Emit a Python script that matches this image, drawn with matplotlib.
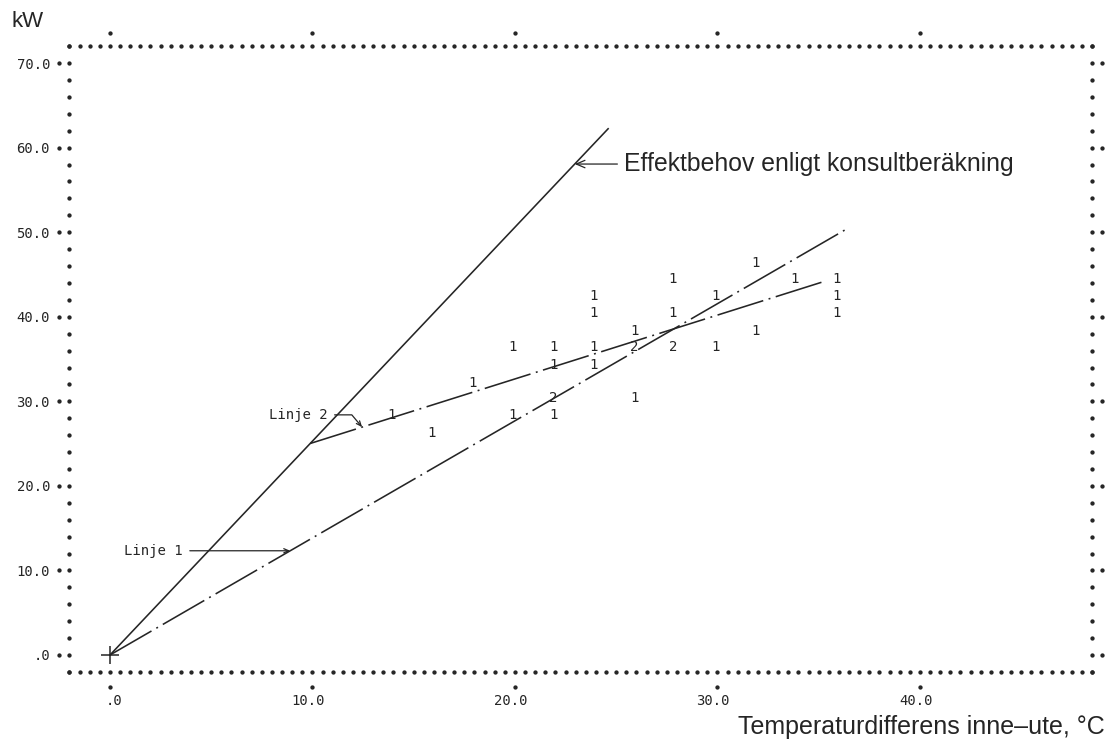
import matplotlib.pyplot as plt
import numpy as np

# axis ticks as printed by the line printer
x_ticks = [0, 10, 20, 30, 40]
x_labels = [".0", "10.0", "20.0", "30.0", "40.0"]
y_ticks = [0, 10, 20, 30, 40, 50, 60, 70]
y_labels = [".0", "10.0", "20.0", "30.0", "40.0", "50.0", "60.0", "70.0"]

# observations: temperature difference (C), power (kW), number of hits at that cell
obs_dt = [13.9, 15.9, 17.9, 19.9, 19.9,
          21.9, 21.9, 21.9, 21.9,
          23.9, 23.9, 23.9, 23.9,
          25.9, 25.9, 25.9,
          27.8, 27.8, 27.8,
          29.9, 29.9,
          31.9, 31.9,
          33.8,
          35.9, 35.9, 35.9]
obs_kw = [28.4, 26.3, 32.2, 36.4, 28.4,
          36.4, 34.3, 30.4, 28.4,
          42.5, 40.4, 36.4, 34.3,
          38.3, 36.4, 30.4,
          44.5, 40.4, 36.4,
          42.5, 36.4,
          46.4, 38.3,
          44.5,
          44.5, 42.5, 40.4]
obs_n = [1, 1, 1, 1, 1,
         1, 1, 2, 1,
         1, 1, 1, 1,
         1, 2, 1,
         1, 1, 2,
         1, 1,
         1, 1,
         1,
         1, 1, 1]

# design load from the consultant, and the two fitted lines
konsult_k = 2.53
konsult_xmax = 24.6
linje1_k = 1.385
linje1_xmax = 36.4
linje2_m = 17.55
linje2_k = 0.755
linje2_xmax = 35.3

ink = "#252525"
mono = "DejaVu Sans Mono"
sans = "Liberation Sans"

fig = plt.figure(figsize=(11.13, 7.42), dpi=100)
ax = fig.add_axes([0.06244, 0.09447, 0.91878, 0.84326])
x0, x1, y0, y1 = -2.0, 48.5, -2.0, 72.0
ax.set_xlim(x0, x1)
ax.set_ylim(y0, y1)
for s in ax.spines.values():
    s.set_visible(False)

# dotted printer frame
dot = dict(ls="none", marker="o", ms=2.1, color=ink, clip_on=False)
fx = np.arange(x0, x1 + 0.01, 0.5)
fy = np.arange(y0, y1 + 0.01, 2.0)
ax.plot(fx, np.full_like(fx, y0), **dot)
ax.plot(fx, np.full_like(fx, y1), **dot)
ax.plot(np.full_like(fy, x0), fy, **dot)
ax.plot(np.full_like(fy, x1), fy, **dot)

# tick dots outside the frame
px_x = 20.25
px_y = 8.455
ax.plot(np.full(len(y_ticks), x0 - 10 / px_x), y_ticks, **dot)
ax.plot(np.full(len(y_ticks), x1 + 10 / px_x), y_ticks, **dot)
ax.plot(x_ticks, np.full(len(x_ticks), y1 + 13 / px_y), **dot)
ax.plot(x_ticks, np.full(len(x_ticks), y0 - 15 / px_y), **dot)

ax.set_xticks(x_ticks)
ax.set_yticks(y_ticks, y_labels)
ax.tick_params(length=0, labelbottom=False, pad=14)
for lab in ax.get_yticklabels():
    lab.set_family(mono)
    lab.set_fontsize(10)
    lab.set_color(ink)

# x labels with the decimal point under the tick
cw = 0.602 * 10
for t, s in zip(x_ticks, x_labels):
    shift = (len(s) / 2 - (s.index(".") + 0.5)) * cw
    ax.annotate(s, xy=(t, 0), xycoords=("data", "axes fraction"),
                xytext=(shift, -21), textcoords="offset points",
                ha="center", va="center", family=mono, fontsize=10, color=ink)

# lines
xk = np.array([0, konsult_xmax])
ax.plot(xk, konsult_k * xk, color=ink, lw=1.15)
dashdot = (0, (30, 3.5, 1.2, 3.5))
x1l = np.array([0, linje1_xmax])
ax.plot(x1l, linje1_k * x1l, color=ink, lw=1.15, ls=dashdot)
x2_start = linje2_m / (konsult_k - linje2_k)
x2l = np.array([x2_start, linje2_xmax])
ax.plot(x2l, linje2_m + linje2_k * x2l, color=ink, lw=1.15, ls=dashdot)
ax.plot(0, 0, marker="+", ms=13, mew=1.1, color=ink)

# printed observation counts
for x, y, n in zip(obs_dt, obs_kw, obs_n):
    ax.text(x, y, str(n), ha="center", va="center", family=mono,
            fontsize=10, color=ink)

# callouts
arrow = dict(arrowstyle="->,head_length=0.35,head_width=0.15", color=ink,
             lw=0.9, shrinkA=3, shrinkB=0)
xa = 22.95
ax.annotate("Effektbehov enligt konsultberäkning", xy=(xa, konsult_k * xa),
            xytext=(25.4, konsult_k * xa), ha="left", va="center",
            family=sans, fontsize=17.8, color=ink, arrowprops=arrow)
xb = 8.9
ax.annotate("Linje 1", xy=(xb, linje1_k * xb), xytext=(3.6, linje1_k * xb),
            ha="right", va="center", family=mono, fontsize=10, color=ink,
            arrowprops=arrow)
xc = 12.45
ax.annotate("Linje 2", xy=(xc, linje2_m + linje2_k * xc), xytext=(10.75, 28.4),
            ha="right", va="center", family=mono, fontsize=10, color=ink,
            arrowprops=dict(arrow, connectionstyle="angle,angleA=0,angleB=130,rad=0"))

ax.set_xlabel("Temperaturdifferens inne–ute, °C", family=sans, fontsize=18,
              color=ink, ha="right", va="center")
ax.xaxis.set_label_coords(1.0126, -0.088)
ax.set_ylabel("kW", family=sans, fontsize=16, color=ink, rotation=0,
              ha="center", va="center")
ax.yaxis.set_label_coords(-0.0406, 1.0387)

fig.savefig("out.png", dpi=100)
